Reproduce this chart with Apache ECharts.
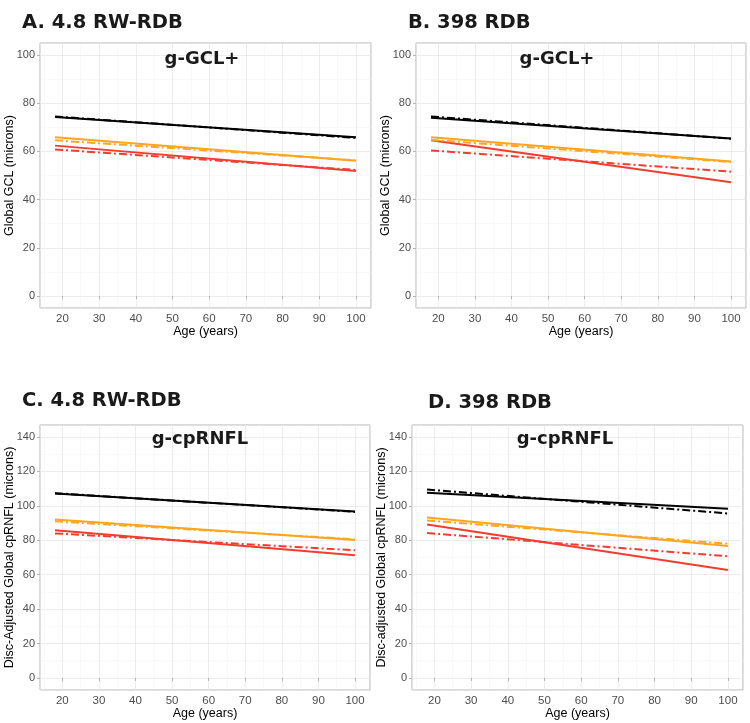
<!DOCTYPE html>
<html>
<head>
<meta charset="utf-8">
<script src="https://cdn.jsdelivr.net/npm/echarts@6/dist/echarts.min.js"></script>
<style>
  html, body { margin: 0; padding: 0; background: #fff; }
  #chart { width: 750px; height: 723px; }
</style>
</head>
<body>
<div id="chart"></div>
<script>
// ages at the two ends of each fitted line
const ages = [18, 100];

// A. 4.8 RW-RDB, g-GCL+
const gclRwBlack = [74.3, 65.9];
const gclRwBlackDash = [74.5, 65.6];
const gclRwOrange = [65.9, 56.1];
const gclRwOrangeDash = [64.6, 56.3];
const gclRwRed = [62.4, 51.9];
const gclRwRedDash = [60.8, 52.3];

// B. 398 RDB, g-GCL+
const gcl398Black = [74.0, 65.4];
const gcl398BlackDash = [74.5, 65.3];
const gcl398Orange = [65.9, 55.8];
const gcl398OrangeDash = [64.8, 55.6];
const gcl398Red = [64.6, 47.2];
const gcl398RedDash = [60.4, 51.6];

// C. 4.8 RW-RDB, g-cpRNFL
const rnflRwBlack = [107.2, 96.8];
const rnflRwBlackDash = [107.4, 96.5];
const rnflRwOrange = [92.1, 80.1];
const rnflRwOrangeDash = [91.0, 80.6];
const rnflRwRed = [85.9, 71.3];
const rnflRwRedDash = [84.0, 74.2];

// D. 398 RDB, g-cpRNFL
const rnfl398Black = [107.6, 98.3];
const rnfl398BlackDash = [109.5, 95.6];
const rnfl398Orange = [93.3, 76.7];
const rnfl398OrangeDash = [91.5, 78.0];
const rnfl398Red = [89.2, 62.7];
const rnfl398RedDash = [84.2, 70.7];

const panelTitles = ['A. 4.8 RW-RDB', 'B. 398 RDB', 'C. 4.8 RW-RDB', 'D. 398 RDB'];
const innerTitles = ['g-GCL+', 'g-GCL+', 'g-cpRNFL', 'g-cpRNFL'];
const yNames = ['Global GCL (microns)', 'Global GCL (microns)',
    'Disc-Adjusted Global cpRNFL (microns)', 'Disc-adjusted Global cpRNFL (microns)'];

const panels = [
    [gclRwBlack, gclRwBlackDash, gclRwOrange, gclRwOrangeDash, gclRwRed, gclRwRedDash],
    [gcl398Black, gcl398BlackDash, gcl398Orange, gcl398OrangeDash, gcl398Red, gcl398RedDash],
    [rnflRwBlack, rnflRwBlackDash, rnflRwOrange, rnflRwOrangeDash, rnflRwRed, rnflRwRedDash],
    [rnfl398Black, rnfl398BlackDash, rnfl398Orange, rnfl398OrangeDash, rnfl398Red, rnfl398RedDash]
];

const lineColors = ['#000000', '#000000', '#ffa51f', '#ffa51f', '#f43c2f', '#f43c2f'];
const dashDot = [8, 3, 2, 3];

const grids = [
    { left: 40, top: 43, width: 331, height: 265 },
    { left: 416, top: 43, width: 330, height: 265 },
    { left: 40, top: 425, width: 330, height: 265 },
    { left: 412, top: 425, width: 331, height: 265 }
];
const yRanges = [[-5, 105], [-5, 105], [-7, 147], [-7, 147]];
const ySplits = [5, 5, 7, 7];
const titlePos = [[22, 13], [408, 13], [22, 391], [428, 393]];
const innerCenters = [[202, 50], [557, 50], [200, 430], [565, 430]];

const fontAxis = 'Liberation Sans';
const fontTitle = 'DejaVu Sans';

const title = [];
const grid = [];
const xAxis = [];
const yAxis = [];
const series = [];

panels.forEach((lines, i) => {
    title.push({
        text: panelTitles[i],
        left: titlePos[i][0],
        top: titlePos[i][1],
        padding: 0,
        textStyle: { fontFamily: fontTitle, fontWeight: 'bold', fontSize: 19.5, color: '#1a1a1a' }
    });
    title.push({
        text: innerTitles[i],
        left: innerCenters[i][0],
        top: innerCenters[i][1],
        textAlign: 'center',
        padding: 0,
        textStyle: { fontFamily: fontTitle, fontWeight: 'bold', fontSize: 18, color: '#1a1a1a' }
    });
    grid.push(Object.assign({
        show: true,
        borderColor: '#b3b3b3',
        borderWidth: 1,
        backgroundColor: 'transparent',
        containLabel: false
    }, grids[i]));
    xAxis.push({
        type: 'value',
        gridIndex: i,
        min: 13.9,
        max: 104.1,
        splitNumber: 9,
        name: 'Age (years)',
        nameLocation: 'middle',
        nameGap: 17,
        nameMoveOverlap: false,
        nameTextStyle: { fontFamily: fontAxis, fontSize: 12.5, color: '#000' },
        axisLine: { show: false },
        axisTick: { show: true, length: 3, lineStyle: { color: '#b3b3b3' } },
        axisLabel: {
            fontFamily: fontAxis, fontSize: 11.5, color: '#4d4d4d', margin: 5,
            showMinLabel: false, showMaxLabel: false
        },
        splitLine: { show: true, lineStyle: { color: '#e4e4e4', width: 0.7 } },
        minorTick: { show: false, splitNumber: 2 },
        minorSplitLine: { show: true, lineStyle: { color: '#f2f2f2', width: 0.5 } }
    });
    yAxis.push({
        type: 'value',
        gridIndex: i,
        min: yRanges[i][0],
        max: yRanges[i][1],
        splitNumber: ySplits[i],
        name: yNames[i],
        nameLocation: 'middle',
        nameGap: 24,
        nameMoveOverlap: false,
        nameTextStyle: { fontFamily: fontAxis, fontSize: 12.5, color: '#000' },
        axisLine: { show: false },
        axisTick: { show: true, length: 3, lineStyle: { color: '#b3b3b3' } },
        axisLabel: {
            fontFamily: fontAxis, fontSize: 11, color: '#4d4d4d', margin: 5,
            showMinLabel: false, showMaxLabel: false
        },
        splitLine: { show: true, lineStyle: { color: '#e4e4e4', width: 0.7 } },
        minorTick: { show: false, splitNumber: 2 },
        minorSplitLine: { show: true, lineStyle: { color: '#f2f2f2', width: 0.5 } }
    });
    lines.forEach((vals, j) => {
        series.push({
            type: 'line',
            xAxisIndex: i,
            yAxisIndex: i,
            showSymbol: false,
            silent: true,
            data: ages.map((a, k) => [a, vals[k]]),
            lineStyle: {
                color: lineColors[j],
                width: 2,
                type: j % 2 === 1 ? dashDot : 'solid'
            },
            z: j % 2 === 1 ? 3 : 2
        });
    });
});

const chart = echarts.init(document.getElementById('chart'), null, { renderer: 'canvas' });
chart.setOption({
    animation: false,
    backgroundColor: '#fff',
    title: title,
    grid: grid,
    xAxis: xAxis,
    yAxis: yAxis,
    series: series
});
</script>
</body>
</html>
